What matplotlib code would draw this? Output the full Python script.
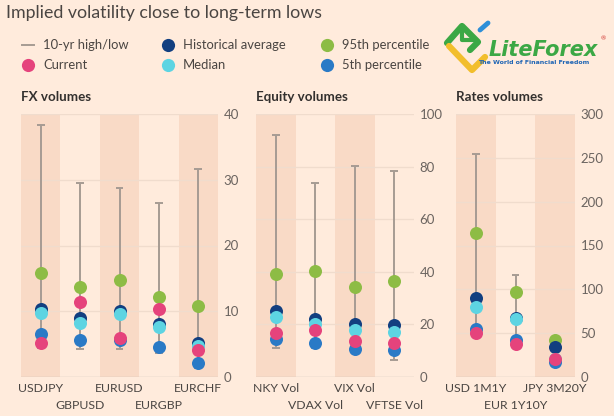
import matplotlib.pyplot as plt
from matplotlib.lines import Line2D

plt.rcParams['font.family'] = ['Lato', 'DejaVu Sans']

# data
fx_labels = ["USDJPY", "GBPUSD", "EURUSD", "EURGBP", "EURCHF"]
fx_high = [38.4, 29.5, 28.7, 26.4, 31.6]
fx_low = [4.4, 4.3, 4.2, 3.6, 1.3]
fx_p95 = [15.8, 13.7, 14.8, 12.2, 10.8]
fx_avg = [10.4, 9.0, 10.1, 8.1, 5.2]
fx_med = [9.8, 8.2, 9.6, 7.6, 4.7]
fx_p5 = [6.5, 5.7, 5.7, 4.5, 2.2]
fx_cur = [5.2, 11.4, 5.9, 10.3, 4.1]

eq_labels = ["NKY Vol", "VDAX Vol", "VIX Vol", "VFTSE Vol"]
eq_high = [91.9, 73.7, 80.4, 78.4]
eq_low = [11.1, 11.1, 10.8, 6.4]
eq_p95 = [39.1, 40.3, 34.3, 36.6]
eq_avg = [25.0, 21.9, 20.0, 19.7]
eq_med = [22.9, 20.0, 17.8, 17.2]
eq_p5 = [14.6, 13.0, 10.7, 10.4]
eq_cur = [16.9, 17.8, 13.6, 13.1]

rt_labels = ["USD 1M1Y", "EUR 1Y10Y", "JPY 3M20Y"]
rt_high = [254.7, 116.3, 43.0]
rt_low = [48.0, 36.0, 16.0]
rt_p95 = [164.7, 96.8, 42.7]
rt_avg = [89.6, 67.5, 34.3]
rt_med = [80.0, 65.6, 21.0]
rt_p5 = [55.3, 42.7, 17.2]
rt_cur = [50.7, 37.4, 20.2]

BG = "#FFEBDC"
BAND = "#F9DAC6"
GRID = "#F0DCCD"
WHISK = "#A69B93"
TXT = "#4A4542"
C_AVG = "#123F80"
C_MED = "#5DD4E2"
C_P95 = "#8DBC45"
C_P5 = "#2A7AC6"
C_CUR = "#E5437C"

fig = plt.figure(figsize=(6.14, 4.16), dpi=100, facecolor=BG)
W, H = 614, 416


def panel(left_px, right_px, title, labels, high, low, p95, avg, med, p5, cur, ymax, step):
    ax = fig.add_axes([left_px / W, (H - 377) / H, (right_px - left_px) / W, 263 / H])
    ax.set_facecolor(BG)
    n = len(labels)
    x = list(range(n))
    for i in x:
        if i % 2 == 0:
            ax.axvspan(i - 0.5, i + 0.5, color=BAND, lw=0, zorder=0)
    for t in range(step, ymax + 1, step):
        ax.axhline(t, color=GRID, lw=1, zorder=1)
    ax.axhline(0, color="#CFC3BA", lw=1, zorder=1)

    ax.vlines(x, low, high, color=WHISK, lw=1.4, zorder=2)
    cw = 0.1
    ax.hlines(high, [i - cw for i in x], [i + cw for i in x], color=WHISK, lw=1.4, zorder=2)
    ax.hlines(low, [i - cw for i in x], [i + cw for i in x], color=WHISK, lw=1.4, zorder=2)

    s = 88
    ax.scatter(x, p95, s=s, color=C_P95, lw=0, zorder=3)
    ax.scatter(x, avg, s=s, color=C_AVG, lw=0, zorder=4)
    ax.scatter(x, med, s=s, color=C_MED, lw=0, zorder=5)
    ax.scatter(x, p5, s=s, color=C_P5, lw=0, zorder=6)
    ax.scatter(x, cur, s=s, color=C_CUR, lw=0, zorder=7)

    ax.set_xlim(-0.5, n - 0.5)
    ax.set_ylim(0, ymax)
    ax.set_yticks(range(0, ymax + 1, step))
    ax.yaxis.tick_right()
    ax.tick_params(axis='y', length=0, pad=4, labelsize=9.5, labelcolor="#6B6460")
    ax.set_xticks([])
    for sp in ax.spines.values():
        sp.set_visible(False)

    for i, lab in enumerate(labels):
        off = -8 if i % 2 == 0 else -20.5
        ax.annotate(lab, xy=(i, 0), xycoords=('data', 'axes fraction'),
                    xytext=(0, off), textcoords='offset points',
                    ha='center', va='center', fontsize=8.8, color=TXT,
                    annotation_clip=False)
    fig.text(left_px / W, 1 - 97 / H, title, fontsize=9.6, fontweight='bold',
             color="#33302E", ha='left', va='center')
    return ax


panel(21, 218, "FX volumes", fx_labels, fx_high, fx_low, fx_p95, fx_avg, fx_med, fx_p5, fx_cur, 40, 10)
panel(256, 414, "Equity volumes", eq_labels, eq_high, eq_low, eq_p95, eq_avg, eq_med, eq_p5, eq_cur, 100, 20)
panel(456, 575, "Rates volumes", rt_labels, rt_high, rt_low, rt_p95, rt_avg, rt_med, rt_p5, rt_cur, 300, 50)

# title
fig.text(6 / W, 1 - 13 / H, "Implied volatility close to long-term lows", fontsize=12.8,
         color=TXT, ha='left', va='center')

# legend, drawn on a pixel overlay
ov = fig.add_axes([0, 0, 1, 1], facecolor='none')
ov.set_xlim(0, W)
ov.set_ylim(H, 0)
ov.axis('off')

legend_items = [
    ("10-yr high/low", None, 28, 45),
    ("Current", C_CUR, 28, 65),
    ("Historical average", C_AVG, 168, 45),
    ("Median", C_MED, 168, 65),
    ("95th percentile", C_P95, 327, 45),
    ("5th percentile", C_P5, 327, 65),
]
for label, col, lx, ly in legend_items:
    if col is None:
        ov.add_line(Line2D([lx - 6, lx + 6], [ly, ly], color=WHISK, lw=1.4))
    else:
        ov.scatter([lx], [ly], s=90, color=col, lw=0)
    ov.text(lx + 15, ly, label, fontsize=9.4, color=TXT, ha='left', va='center')

# logo
ov.add_line(Line2D([447, 462, 478, 470], [43, 26, 42, 50], color="#3BA845", lw=4.5, solid_capstyle='round'))
ov.add_line(Line2D([462, 462, 472], [30, 40, 40], color="#3BA845", lw=3))
ov.add_line(Line2D([449, 472, 485], [46, 70, 57], color="#F2BE2C", lw=4.5, solid_capstyle='round'))
ov.add_line(Line2D([480, 488], [30, 23], color="#2E8FD8", lw=3.5, solid_capstyle='round'))
ov.text(489, 50, "LiteForex", fontsize=15, fontweight='bold', style='italic',
        color="#3BA845", ha='left', va='center', family=['DejaVu Sans'])
ov.text(601, 39, "®", fontsize=4.5, color="#D0332E", ha='left', va='center')
ov.text(534, 63, "The World of Financial Freedom", fontsize=4.5, fontweight='bold',
        color="#2166B5", ha='center', va='center', family=['DejaVu Sans'])

fig.savefig("out.png", dpi=100, facecolor=BG)
